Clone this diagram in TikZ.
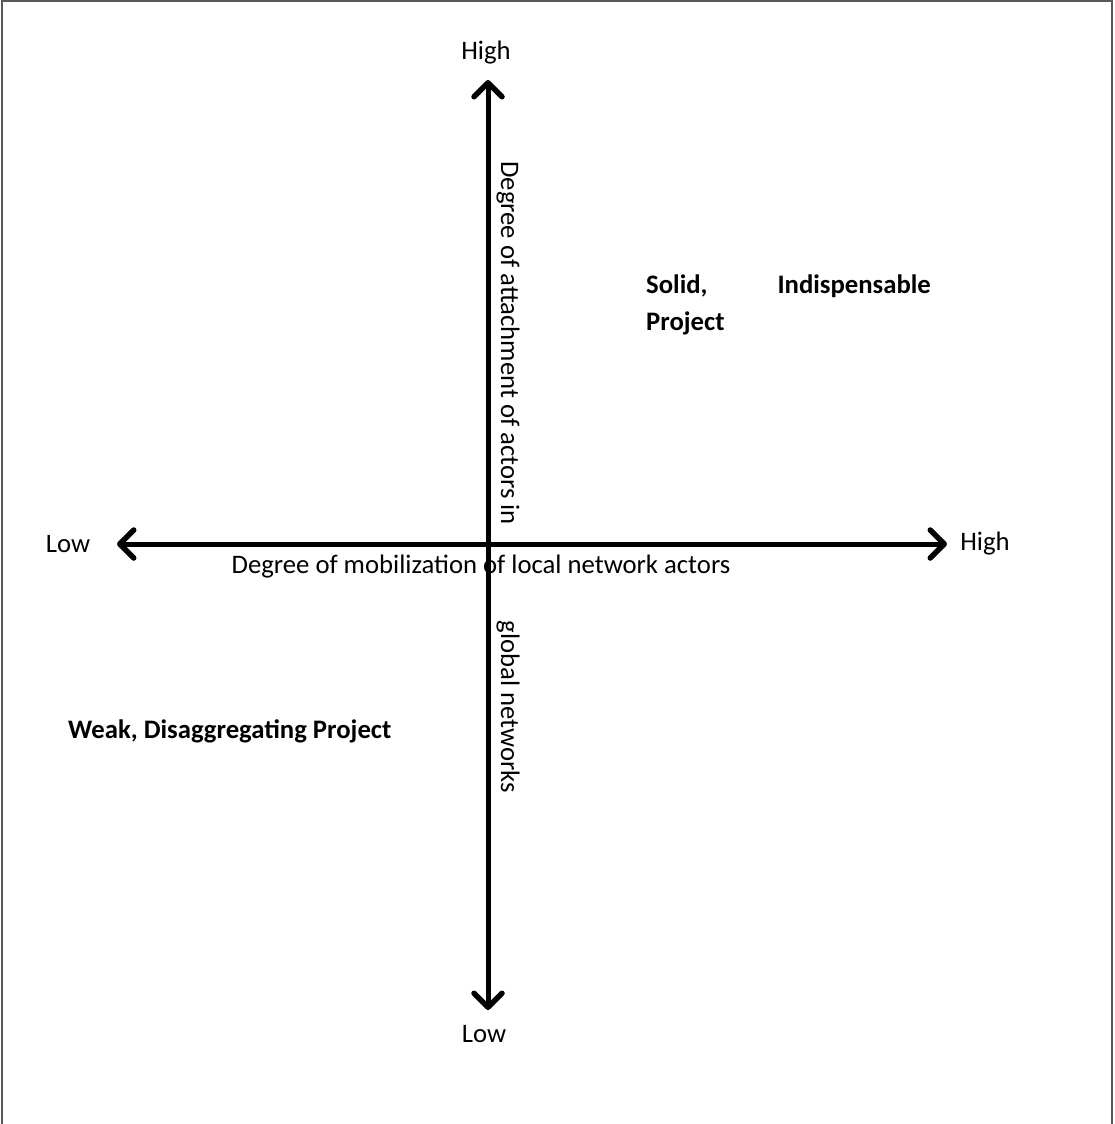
\documentclass[tikz,border=0pt]{standalone}
\usepackage{fontspec}
\setmainfont{Carlito}
\usetikzlibrary{arrows.meta}
\begin{document}
\begin{tikzpicture}[x=1pt,y=-1pt,
  axis/.style={line width=5pt,{Straight Barb[length=14pt,width=28pt,line width=5.5pt,round]}-{Straight Barb[length=14pt,width=28pt,line width=5.5pt,round]}},
  lbl/.style={inner sep=0pt,font=\fontsize{26.7}{32}\selectfont},
  blbl/.style={lbl,font=\fontsize{26.7}{32}\selectfont\bfseries}]
\useasboundingbox (0,0) rectangle (1114,1124);
\fill[white] (0,0) rectangle (1114,1124);
\draw[line width=2pt,gray!70!black] (2,1124) -- (2,1) -- (1112,1) -- (1112,1124);
\coordinate (top) at (488,80);
\coordinate (bot) at (488,1010);
\coordinate (left) at (117,544);
\coordinate (right) at (947,544);
\draw[axis] (bot) -- (top);
\draw[axis] (left) -- (right);
\node[lbl] (hT) at (486,53) {High};
\node[lbl] (lB) at (484,1034) {Low};
\node[lbl] (lL) at (68,544) {Low};
\node[lbl] (hR) at (985,544) {High};
\node[lbl] (xl) at (481,567) {Degree of mobilization of local network actors};
\node[lbl,rotate=-90] (yl1) at (508,343) {Degree of attachment of actors in};
\node[lbl,rotate=-90] (yl2) at (508,707) {global networks};
\node[blbl,anchor=west] (s1) at (646,286) {Solid,};
\node[blbl,anchor=east] (s2) at (931,286) {Indispensable};
\node[blbl,anchor=west] (s3) at (646,323) {Project};
\node[blbl,anchor=west] (w) at (68,731) {Weak, Disaggregating Project};
\end{tikzpicture}
\end{document}
